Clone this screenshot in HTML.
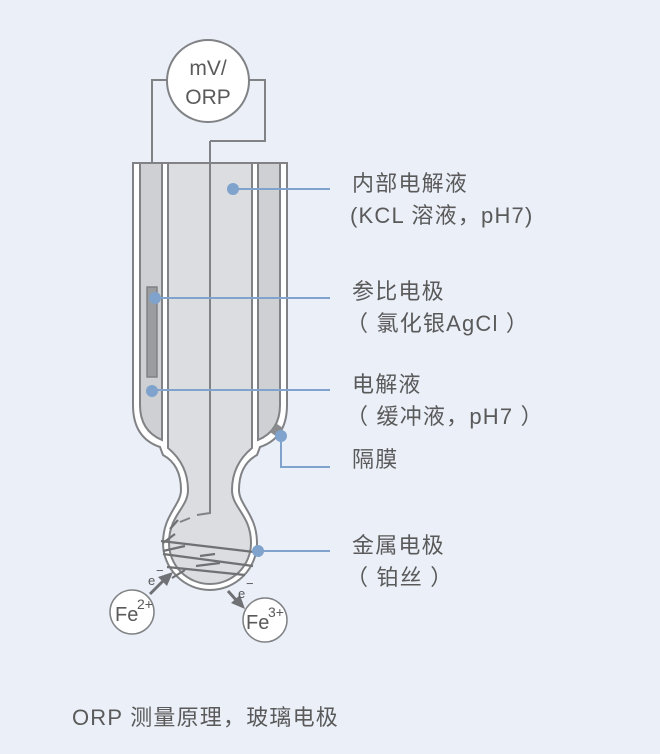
<!DOCTYPE html>
<html><head><meta charset="utf-8"><style>
html,body{margin:0;padding:0;background:#ebeff8;}
svg{display:block;}
text{font-family:"Liberation Sans","Noto Sans CJK SC",sans-serif;fill:#5a5a5a;}
</style></head><body>
<svg width="660" height="754" viewBox="0 0 660 754" xmlns="http://www.w3.org/2000/svg">
<rect width="660" height="754" fill="#ebeff8"/>
<g fill="none" stroke="#808285" stroke-width="2">
<path d="M167,80 H152 V288"/>
<path d="M249,80 H265 V141 H210"/>
</g>
<circle cx="208" cy="81" r="41" fill="#fff" stroke="#808285" stroke-width="2"/>
<text x="208" y="75" font-size="21" text-anchor="middle">mV/</text>
<text x="208" y="104" font-size="21" text-anchor="middle">ORP</text>
<path d="M133,163 V405 C133,430 145,442 160,447 L163,455 C176,462 181,475 181,490 C181,505 163,515 163,543 A47,47 0 0 0 257,543 C257,515 239,505 239,490 C239,475 244,462 257,455 L260,447 C275,442 287,430 287,405 V163 Z" fill="#fff" stroke="#808285" stroke-width="2"/>
<path d="M140,163 V405 C140,425 150,435 162,440 V163 Z" fill="#cfd0d3" stroke="#808285" stroke-width="2"/>
<path d="M280,163 V405 C280,425 270,435 258,440 V163 Z" fill="#cfd0d3" stroke="#808285" stroke-width="2"/>
<path d="M168,163 V448 C180,458 188,472 188,490 C188,508 169,515 169,543 A41,41 0 0 0 251,543 C251,515 232,508 232,490 C232,472 240,458 252,448 V163 Z" fill="#dcdde0" stroke="#808285" stroke-width="2"/>
<path d="M270,432 L277,424 L283,428 L277,437 Z" fill="#8a8c8f"/>
<rect x="147" y="287" width="10" height="90" fill="#9a9c9f" stroke="#808285" stroke-width="1.5"/>
<path d="M210,141 V513 L197,515" fill="none" stroke="#808285" stroke-width="2"/>
<path d="M190,518 L180,522" stroke="#808285" stroke-width="2"/>
<g stroke="#6f7174" stroke-width="2.2" fill="none">
<path d="M161,541 L254,552"/>
<path d="M163,554 L253,566"/>
<path d="M167,567 L245,575"/>
<path d="M170,529 L178,520"/>
<path d="M163,551 L185,546"/>
<path d="M200,556 L215,554"/>
<path d="M196,566 L220,563"/>
<path d="M163,543 L175,534"/>
<path d="M172,578 L185,570"/>
</g>
<circle cx="132" cy="612" r="22" fill="#fff" stroke="#808285" stroke-width="1.5"/>
<text x="115" y="621" font-size="20">Fe</text><text x="137" y="609" font-size="14">2+</text>
<circle cx="265" cy="620" r="22" fill="#fff" stroke="#808285" stroke-width="1.5"/>
<text x="246" y="629" font-size="20">Fe</text><text x="268" y="617" font-size="14">3+</text>
<g stroke="#6f7174" stroke-width="3">
<path d="M150,594 L164,580"/>
<path d="M228,591 L237,601"/>
</g>
<path d="M173,572 L158,577 L167,586 Z" fill="#6f7174"/>
<path d="M245,609 L231,603 L240,595 Z" fill="#6f7174"/>
<text x="148" y="585" font-size="13">e</text><text x="156" y="575" font-size="13">−</text>
<text x="238" y="598" font-size="13">e</text><text x="246" y="588" font-size="13">−</text>
<g stroke="#7fa3cc" stroke-width="2" fill="none">
<path d="M233,189 H330"/>
<path d="M154,298 H330"/>
<path d="M152,390 H330"/>
<path d="M281,436 V467 H330"/>
<path d="M258,551 H330"/>
</g>
<g fill="#7fa3cc">
<circle cx="233" cy="189" r="6"/>
<circle cx="155" cy="298" r="6"/>
<circle cx="152" cy="391" r="6"/>
<circle cx="281" cy="436" r="6"/>
<circle cx="258" cy="551" r="6"/>
</g>
<g font-size="22" letter-spacing="1.2">
<text x="352" y="191">内部电解液</text>
<text x="350" y="223">(KCL 溶液，pH7)</text>
<text x="352" y="299">参比电极</text>
<text x="346" y="331">（ 氯化银AgCl ）</text>
<text x="352" y="392">电解液</text>
<text x="346" y="424">（ 缓冲液，pH7 ）</text>
<text x="352" y="467">隔膜</text>
<text x="352" y="553">金属电极</text>
<text x="346" y="585">（ 铂丝 ）</text>
<text x="72" y="725">ORP 测量原理，玻璃电极</text>
</g>
</svg>
</body></html>
